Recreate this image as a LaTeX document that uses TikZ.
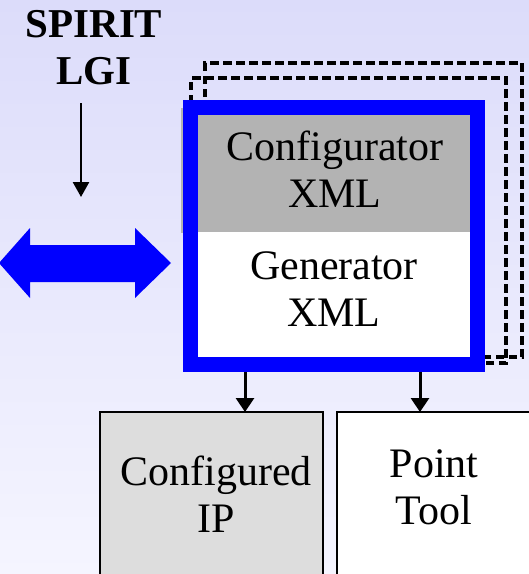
\documentclass[tikz,border=0pt]{standalone}
\usepackage{fontspec}
\setmainfont{Liberation Serif}
\usetikzlibrary{arrows.meta}
\definecolor{bgtop}{RGB}{220,220,250}
\definecolor{bgbot}{RGB}{245,245,255}
\definecolor{cfggray}{RGB}{179,179,179}
\definecolor{ipgray}{RGB}{221,221,221}
\definecolor{pureblue}{RGB}{0,0,255}
\tikzset{
  bigtext/.style={font=\fontsize{42}{47}\selectfont, align=center, inner sep=0pt},
  dashbox/.style={draw=black, line width=3.2pt, dash pattern=on 8.5pt off 4.5pt},
  plainbox/.style={draw=black, line width=2.4pt, inner sep=0pt, outer sep=0pt, anchor=north west},
  downarrow/.style={draw=black, line width=3pt, -{Triangle[length=14pt,width=18pt]}},
}
\begin{document}
\begin{tikzpicture}[x=1pt,y=-1pt]
\useasboundingbox (0,0) rectangle (529,574);
\shade[top color=bgtop,bottom color=bgbot] (0,0) rectangle (529,574);
\begin{scope}
\clip (0,0) rectangle (529,574);
% stacked dashed frames
\draw[dashbox] (205,357) -- (205,63) -- (522,63) -- (522,357) -- cycle;
\draw[dashbox] (191,363) -- (191,78) -- (506,78) -- (506,363) -- cycle;
% regions of the main block
\node[fill=cfggray, inner sep=0pt, outer sep=0pt, minimum width=289pt, minimum height=125pt, anchor=north west] (cfg) at (181,108) {};
\node[fill=white, inner sep=0pt, outer sep=0pt, minimum width=274pt, minimum height=126pt, anchor=north west] (gen) at (197,232) {};
\node[draw=pureblue, line width=15pt, inner sep=0pt, outer sep=0pt, minimum width=286.5pt, minimum height=257pt, anchor=north west] (frame) at (190.5,107.5) {};
\node[bigtext] (cfgtxt) at (335,169) {Configurator\\XML};
\node[bigtext] (gentxt) at (334,289) {Generator\\XML};
% output boxes
\node[plainbox, fill=ipgray, minimum width=223pt, minimum height=200pt] (ip) at (100,412) {};
\node[plainbox, fill=white, minimum width=210pt, minimum height=200pt] (tool) at (337,412) {};
\node[bigtext] (iptxt) at (216,494) {Configured\\IP};
\node[bigtext] (tooltxt) at (434,487) {Point\\Tool};
\coordinate (o1) at (245,372);
\coordinate (o2) at (420,372);
\draw[downarrow] (o1) -- (o1 |- ip.north);
\draw[downarrow] (o2) -- (o2 |- tool.north);
% SPIRIT LGI
\node[bigtext, font=\fontsize{41}{47}\selectfont\bfseries] (spirit) at (94,48) {SPIRIT\\LGI};
\coordinate (s1) at (81,103);
\coordinate (s2) at (81,197);
\draw[draw=black, line width=2.6pt, -{Triangle[length=15pt,width=16pt]}] (s1) -- (s2);
% blue double arrow
\fill[pureblue] (-1,263) -- (30,228) -- (30,245) -- (135,245) -- (135,228) -- (171,263)
  -- (135,298) -- (135,282) -- (30,282) -- (30,298) -- cycle;
\end{scope}
\end{tikzpicture}
\end{document}
